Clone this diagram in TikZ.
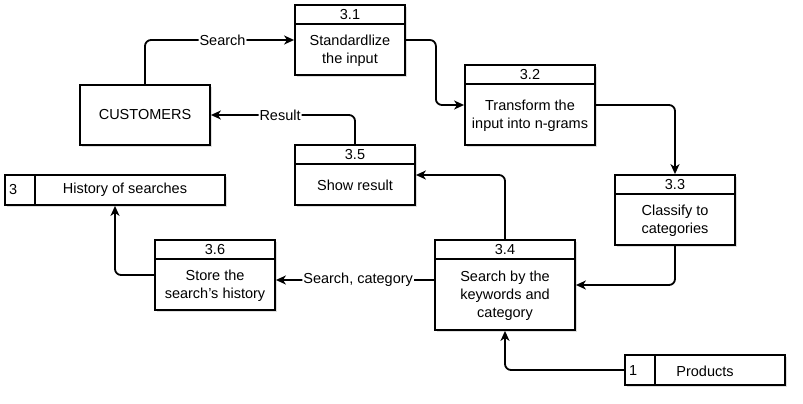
\documentclass[tikz,border=0pt]{standalone}
\usepackage{fontspec}
\setmainfont{Liberation Sans}
\usetikzlibrary{arrows.meta,shadows}
\begin{document}
\begin{tikzpicture}[x=1pt,y=-1pt,
  box/.style={draw, line width=1.8pt, fill=white, inner sep=0pt,
    drop shadow={opacity=0.25, shadow xshift=2pt, shadow yshift=-2pt}},
  hdr/.style={line width=1.8pt},
  txt/.style={font=\fontsize{14.5}{18}\selectfont, align=center, inner sep=0pt},
  flow/.style={line width=1.8pt, rounded corners=6pt, -{Stealth[length=10pt,width=9pt,inset=3pt]}},
  lbl/.style={fill=white, inner sep=1pt, font=\fontsize{14.5}{16}\selectfont}]
\useasboundingbox (0,0) rectangle (803,404);

% process boxes
\node[box, minimum width=110pt, minimum height=70pt] (p31) at (350,40) {};
\draw[hdr] ([yshift=-20pt]p31.north west) -- ([yshift=-20pt]p31.north east);
\node[txt] (p31h) at (350,15) {3.1};
\node[txt] (p31b) at (350,51) {Standardlize\\the input};

\node[box, minimum width=130pt, minimum height=80pt] (p32) at (530,105) {};
\draw[hdr] ([yshift=-20pt]p32.north west) -- ([yshift=-20pt]p32.north east);
\node[txt] (p32h) at (530,75) {3.2};
\node[txt] (p32b) at (530,116) {Transform the\\input into n-grams};

\node[box, minimum width=120pt, minimum height=60pt] (p35) at (355,175) {};
\draw[hdr] ([yshift=-20pt]p35.north west) -- ([yshift=-20pt]p35.north east);
\node[txt] (p35h) at (355,155) {3.5};
\node[txt] (p35b) at (355,185) {Show result};

\node[box, minimum width=120pt, minimum height=70pt] (p33) at (675,210) {};
\draw[hdr] ([yshift=-20pt]p33.north west) -- ([yshift=-20pt]p33.north east);
\node[txt] (p33h) at (675,185) {3.3};
\node[txt] (p33b) at (675,221) {Classify to\\categories};

\node[box, minimum width=120pt, minimum height=70pt] (p36) at (215,275) {};
\draw[hdr] ([yshift=-20pt]p36.north west) -- ([yshift=-20pt]p36.north east);
\node[txt] (p36h) at (215,250) {3.6};
\node[txt] (p36b) at (215,286) {Store the\\search's history};

\node[box, minimum width=140pt, minimum height=90pt] (p34) at (505,285) {};
\draw[hdr] ([yshift=-20pt]p34.north west) -- ([yshift=-20pt]p34.north east);
\node[txt] (p34h) at (505,250) {3.4};
\node[txt] (p34b) at (505,296) {Search by the\\keywords and\\category};

% external entity
\node[box, minimum width=130pt, minimum height=60pt, txt] (cust) at (145,115) {CUSTOMERS};

% data stores
\node[box, minimum width=220pt, minimum height=30pt] (hist) at (115,190) {};
\draw[hdr] (35,175) -- (35,205);
\node[txt, anchor=west] (histn) at (9,190) {3};
\node[txt] (histt) at (125,190) {History of searches};

\node[box, minimum width=160pt, minimum height=30pt] (prod) at (705,370) {};
\draw[hdr] (655,355) -- (655,385);
\node[txt, anchor=west] (prodn) at (629,371) {1};
\node[txt] (prodt) at (705,371) {Products};

% flows
\coordinate (f34) at ([yshift=5pt]p34.west);
\draw[flow] (cust.north) |- node[lbl, pos=0.76] {Search} (p31.west);
\draw[flow] (p31.east) -- ++(30,0) |- (p32.west);
\draw[flow] (p32.east) -| (p33.north);
\draw[flow] (p33.south) |- (p34.east);
\draw[flow] (p34.north) |- (p35.east);
\draw[flow] (p35.north) |- node[lbl, pos=0.76] {Result} (cust.east);
\draw[flow] (f34) -- node[lbl, pos=0.48] {Search, category} (f34 -| p36.east);
\draw[flow] (p36.west) -| (hist.south);
\draw[flow] (prod.west) -| (p34.south);
\end{tikzpicture}
\end{document}
